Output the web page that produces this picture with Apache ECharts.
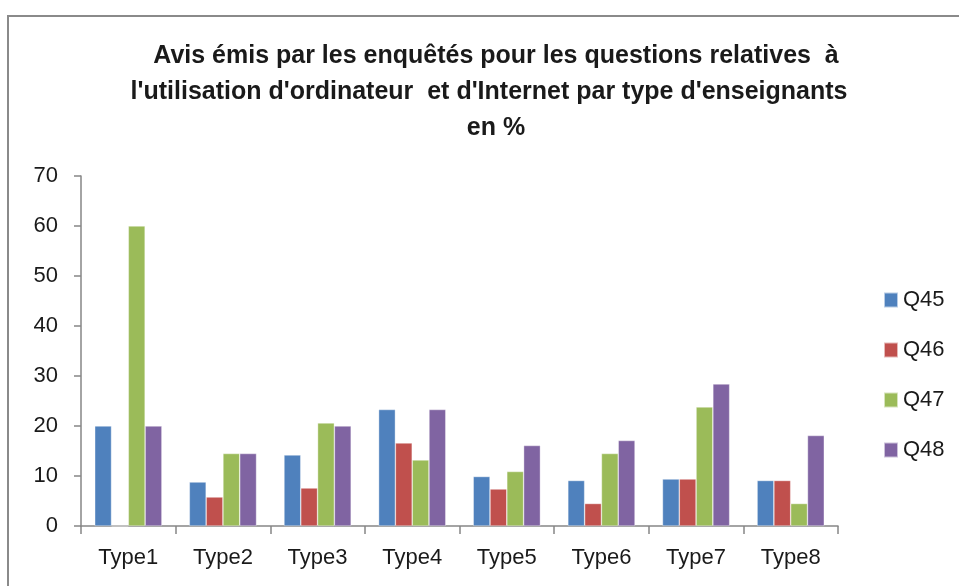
<!DOCTYPE html>
<html>
<head>
<meta charset="utf-8">
<script src="https://cdn.jsdelivr.net/npm/echarts@6/dist/echarts.min.js"></script>
<style>
  html, body { margin: 0; padding: 0; background: #fff; }
  #frame { position: absolute; left: 7px; top: 15px; width: 1000px; height: 600px; border: 2px solid #8a8a8a; box-sizing: border-box; }
  #chart { position: absolute; left: 0; top: 0; width: 959px; height: 586px; }
</style>
</head>
<body>
<div id="frame"></div>
<div id="chart"></div>
<script>
// Teacher types on the x axis
const categories = ['Type1', 'Type2', 'Type3', 'Type4', 'Type5', 'Type6', 'Type7', 'Type8'];

// Share of answers (%) per question
const q45 = [20, 8.8, 14.2, 23.3, 9.9, 9.1, 9.4, 9.1];
const q46 = [0, 5.8, 7.6, 16.6, 7.4, 4.5, 9.4, 9.1];
const q47 = [60, 14.5, 20.6, 13.2, 10.9, 14.5, 23.8, 4.5];
const q48 = [20, 14.5, 20, 23.3, 16.1, 17.1, 28.4, 18.1];

const seriesNames = ['Q45', 'Q46', 'Q47', 'Q48'];
const seriesData = [q45, q46, q47, q48];
const colors = ['#4F81BD', '#C0504D', '#9BBB59', '#8064A2'];

const axisGray = '#868686';
const font = 'Liberation Sans, Arial, sans-serif';

const chart = echarts.init(document.getElementById('chart'), null, { renderer: 'canvas' });

chart.setOption({
  backgroundColor: 'transparent',
  animation: false,
  title: {
    text: "Avis émis par les enquêtés pour les questions relatives  à\nl'utilisation d'ordinateur  et d'Internet par type d'enseignants  \nen %",
    left: 491,
    textAlign: 'center',
    top: 33,
    textStyle: {
      fontFamily: font,
      fontSize: 25,
      fontWeight: 'bold',
      color: '#1a1a1a',
      lineHeight: 36
    }
  },
  legend: {
    orient: 'vertical',
    left: 878,
    top: 284,
    itemWidth: 14,
    itemHeight: 15,
    itemGap: 28,
    icon: 'rect',
    textStyle: { fontFamily: font, fontSize: 22, color: '#1a1a1a', padding: [0, 0, 0, 0] },
    data: seriesNames
  },
  grid: { left: 81, right: 121, top: 176, bottom: 60, containLabel: false },
  xAxis: {
    type: 'category',
    data: categories,
    axisLine: { lineStyle: { color: axisGray, width: 1.5 } },
    axisTick: { show: true, length: 8, lineStyle: { color: axisGray, width: 1.5 } },
    axisLabel: { fontFamily: font, fontSize: 22, color: '#1a1a1a', margin: 21 }
  },
  yAxis: {
    type: 'value',
    min: 0,
    max: 70,
    interval: 10,
    axisLine: { show: true, lineStyle: { color: axisGray, width: 1.5 } },
    axisTick: { show: true, length: 7, lineStyle: { color: axisGray, width: 1.5 } },
    splitLine: { show: false },
    axisLabel: { fontFamily: font, fontSize: 22, color: '#1a1a1a', margin: 23 }
  },
  series: seriesNames.map((name, i) => ({
    name: name,
    type: 'bar',
    data: seriesData[i],
    barGap: '0%',
    barCategoryGap: '29%',
    itemStyle: { color: colors[i], borderColor: 'rgba(255,255,255,0.6)', borderWidth: 0.6 }
  }))
});
</script>
</body>
</html>
